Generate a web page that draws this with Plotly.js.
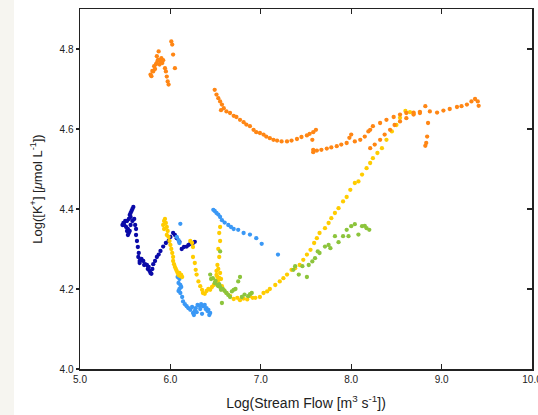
<!DOCTYPE html>
<html>
<head>
<meta charset="utf-8">
<script src="https://cdn.plot.ly/plotly-3.0.1.min.js"></script>
<style>html,body{margin:0;padding:0;background:#fff;}#chart{width:538px;height:415px;}</style>
</head>
<body>
<div id="chart"></div>
<script>
// Log(Stream Flow) vs Log([K+]) per storm event
const darkBlueX = [5.59,5.58,5.57,5.56,5.55,5.56,5.54,5.52,5.50,5.48,5.47,5.49,5.51,5.53,5.52,5.54,5.53,5.55,5.56,5.58,5.60,5.61,5.62,5.62,5.63,5.64,5.65,5.645,5.66,5.675,5.66,5.68,5.70,5.71,5.72,5.74,5.75,5.76,5.77,5.78,5.79,5.80,5.81,5.83,5.85,5.87,5.89,5.92,5.95,5.98,6.00,6.03,6.05,6.07,6.10,6.125,6.15,6.18,6.20,6.22,6.25,6.27];
const darkBlueY = [4.405,4.40,4.395,4.39,4.385,4.38,4.375,4.37,4.37,4.365,4.36,4.36,4.355,4.35,4.345,4.34,4.335,4.345,4.36,4.37,4.375,4.36,4.35,4.335,4.32,4.305,4.29,4.28,4.27,4.273,4.265,4.275,4.27,4.26,4.262,4.26,4.25,4.255,4.245,4.24,4.238,4.25,4.262,4.27,4.28,4.286,4.295,4.306,4.315,4.32,4.33,4.34,4.335,4.327,4.318,4.30,4.305,4.306,4.31,4.313,4.315,4.318];

const lightBlueX = [6.11,6.07,6.09,6.10,6.08,6.10,6.09,6.11,6.10,6.12,6.09,6.11,6.13,6.14,6.16,6.18,6.20,6.22,6.25,6.27,6.24,6.28,6.30,6.32,6.34,6.36,6.38,6.40,6.42,6.44,6.43,6.41,6.39,6.35,6.33,6.29,6.26,
  6.475,6.49,6.51,6.53,6.55,6.57,6.60,6.64,6.67,6.70,6.75,6.81,6.88,6.95,7.01,7.19];
const lightBlueY = [4.363,4.33,4.322,4.315,4.23,4.225,4.215,4.21,4.20,4.205,4.195,4.19,4.18,4.169,4.162,4.157,4.152,4.148,4.14,4.145,4.155,4.152,4.16,4.158,4.162,4.157,4.16,4.152,4.148,4.14,4.135,4.145,4.15,4.138,4.15,4.142,4.135,
  4.398,4.395,4.39,4.386,4.38,4.372,4.366,4.36,4.355,4.35,4.348,4.34,4.336,4.327,4.313,4.286];

const yellowX = [5.94,5.93,5.92,5.93,5.95,5.96,5.97,5.96,5.98,5.99,6.00,6.01,6.02,6.03,6.03,6.04,6.05,6.06,6.07,6.08,6.09,6.10,6.11,6.12,6.13,
  6.22,6.24,6.25,6.25,6.27,6.28,6.29,6.31,6.33,6.35,6.36,6.38,6.40,6.42,6.44,6.46,6.48,
  6.50,6.51,6.52,6.51,6.53,6.52,6.54,6.53,6.55,6.54,6.55,6.53,6.52,6.54,6.55,6.56,
  6.57,6.59,6.62,6.66,6.70,6.74,6.77,6.81,6.85,6.88,6.91,6.94,6.99,7.03,7.07,7.10,7.16,7.21,7.25,7.29,7.34,7.38,7.43,7.47,7.51,7.55,7.59,7.62,7.65,7.71,7.75,7.78,7.82,7.86,7.91,7.95,7.99,8.04,8.08,8.12,8.17,8.21,8.24,8.29,8.34,8.39,8.45,8.50,8.54,8.60,8.65,8.69];
const yellowY = [4.375,4.37,4.36,4.35,4.365,4.355,4.345,4.335,4.33,4.32,4.31,4.30,4.29,4.28,4.27,4.262,4.255,4.25,4.245,4.24,4.235,4.24,4.232,4.235,4.23,
  4.32,4.315,4.305,4.28,4.265,4.248,4.236,4.219,4.207,4.198,4.19,4.188,4.195,4.20,4.198,4.205,4.21,
  4.22,4.235,4.23,4.245,4.25,4.26,4.28,4.30,4.32,4.34,4.355,4.222,4.215,4.228,4.24,4.225,
  4.207,4.198,4.19,4.183,4.175,4.178,4.172,4.176,4.174,4.182,4.178,4.178,4.18,4.19,4.194,4.20,4.21,4.219,4.227,4.236,4.248,4.252,4.26,4.273,4.286,4.298,4.315,4.327,4.34,4.352,4.365,4.377,4.39,4.402,4.419,4.43,4.448,4.465,4.469,4.486,4.502,4.515,4.527,4.54,4.552,4.573,4.594,4.61,4.628,4.645,4.642,4.638];

const greenX = [6.44,6.45,6.47,6.49,6.50,6.52,6.53,6.54,6.55,6.56,6.58,6.60,6.62,6.64,6.66,6.68,6.70,6.72,6.75,6.77,6.79,6.82,6.86,6.88,6.90,6.55,6.57,
  7.36,7.38,7.42,7.46,7.51,7.53,7.57,7.60,7.63,7.65,7.71,7.75,7.77,7.82,7.86,7.91,7.95,7.97,8.00,8.04,8.08,8.12,8.15,8.17,8.20];
const greenY = [4.236,4.225,4.227,4.215,4.22,4.21,4.207,4.212,4.205,4.198,4.20,4.195,4.19,4.185,4.18,4.194,4.198,4.20,4.219,4.23,4.18,4.186,4.182,4.187,4.19,4.294,4.165,
  4.248,4.257,4.236,4.257,4.23,4.26,4.269,4.277,4.294,4.29,4.306,4.31,4.302,4.332,4.317,4.332,4.348,4.332,4.357,4.362,4.336,4.357,4.358,4.352,4.348];

const orangeX = [5.78,5.79,5.80,5.81,5.82,5.83,5.84,5.85,5.86,5.87,5.85,5.87,5.88,5.89,5.90,5.91,5.92,5.94,5.95,5.96,5.97,5.98,6.01,6.02,6.03,6.05,
  6.49,6.51,6.53,6.55,6.57,6.56,6.59,6.62,6.66,6.70,6.73,6.77,6.81,6.84,6.88,6.92,6.95,6.99,7.03,7.06,7.10,7.14,7.18,7.23,7.29,7.34,7.40,7.45,7.51,7.54,7.58,7.61,7.57,
  7.58,7.58,7.62,7.67,7.73,7.78,7.84,7.89,7.95,7.98,8.00,8.04,8.10,8.15,8.19,8.21,8.24,8.32,8.39,8.47,8.54,8.61,8.69,8.76,8.82,8.87,8.95,9.02,9.09,9.17,9.22,9.28,9.33,9.37,9.40,9.41,
  8.21,8.26,8.32,8.37,8.43,8.48,8.54,8.61,8.69,8.76,8.85,8.84,8.83,8.82];
const orangeY = [4.736,4.732,4.745,4.744,4.757,4.75,4.762,4.765,4.772,4.773,4.782,4.794,4.761,4.769,4.777,4.765,4.772,4.752,4.744,4.731,4.719,4.711,4.819,4.811,4.786,4.752,
  4.698,4.686,4.677,4.669,4.661,4.647,4.652,4.644,4.64,4.633,4.63,4.623,4.617,4.611,4.607,4.598,4.592,4.59,4.586,4.581,4.577,4.573,4.571,4.569,4.569,4.571,4.575,4.58,4.584,4.588,4.592,4.598,4.573,
  4.548,4.542,4.546,4.548,4.551,4.554,4.557,4.561,4.565,4.578,4.586,4.569,4.573,4.581,4.594,4.598,4.607,4.615,4.623,4.63,4.636,4.64,4.641,4.643,4.657,4.644,4.641,4.646,4.65,4.655,4.657,4.661,4.669,4.675,4.669,4.658,
  4.552,4.561,4.573,4.586,4.598,4.61,4.619,4.627,4.636,4.64,4.615,4.581,4.565,4.558];

const xTicks = [5,6,7,8,9,10];
const xTickLabels = ['5.0','6.0','7.0','8.0','9.0','10.0'];
const yTicks = [4.0,4.2,4.4,4.6,4.8];
const yTickLabels = ['4.0','4.2','4.4','4.6','4.8'];

function series(x, y, color) {
  return {x: x, y: y, type: 'scatter', mode: 'markers', hoverinfo: 'skip',
    marker: {color: color, size: 4.3, line: {width: 0}}, showlegend: false};
}
const traces = [
  series(darkBlueX, darkBlueY, '#0a0aa8'),
  series(lightBlueX, lightBlueY, '#3a98f5'),
  series(yellowX, yellowY, '#ffcc00'),
  series(greenX, greenY, '#8cc43c'),
  series(orangeX, orangeY, '#ff8614'),
  {x: [], y: [], xaxis: 'x2', yaxis: 'y2', type: 'scatter', showlegend: false}
];

const font = {family: 'Liberation Sans, Arial, sans-serif', color: '#222'};
const layout = {
  width: 538, height: 415,
  margin: {l: 80, r: 6, t: 9, b: 46},
  paper_bgcolor: '#fff', plot_bgcolor: '#fff',
  font: font,
  xaxis: {range: [5, 10], tickvals: xTicks, ticktext: xTickLabels, ticks: 'inside', ticklen: 5,
    tickwidth: 1.2, tickcolor: '#222', showgrid: false, zeroline: false, showline: true, linecolor: '#222', linewidth: 1.5,
    tickfont: {size: 10, family: font.family, color: '#222'}, ticklabeloverflow: 'allow',
    title: {text: 'Log(Stream Flow [m<sup>3</sup> s<sup>-1</sup>])', font: {size: 14, family: font.family, color: '#222'}, standoff: 14},
    automargin: false},
  yaxis: {range: [4.0, 4.9], tickvals: yTicks, ticktext: yTickLabels, ticks: 'outside', ticklen: 3,
    tickwidth: 1.2, tickcolor: '#222', showgrid: false, zeroline: false, showline: true, linecolor: '#222', linewidth: 1.5,
    tickfont: {size: 10, family: font.family, color: '#222'}, ticklabeloverflow: 'allow',
    title: {text: 'Log([K<sup>+</sup>] [<i>μ</i>mol L<sup>-1</sup>])', font: {size: 13, family: font.family, color: '#222'}, standoff: 14},
    automargin: false},
  xaxis2: {range: [5, 10], tickvals: xTicks, overlaying: 'x', side: 'top', anchor: 'y', ticks: 'inside', ticklen: 5,
    tickwidth: 1.2, tickcolor: '#222', showticklabels: false, showgrid: false, zeroline: false, showline: true, linecolor: '#222', linewidth: 1.5},
  yaxis2: {range: [4.0, 4.9], tickvals: yTicks, overlaying: 'y', side: 'right', anchor: 'x', ticks: 'inside', ticklen: 5,
    tickwidth: 1.2, tickcolor: '#222', showticklabels: false, showgrid: false, zeroline: false, showline: true, linecolor: '#222', linewidth: 1.5},
  shapes: [{type: 'rect', xref: 'paper', yref: 'paper', x0: -80/452, x1: -66/452, y0: -0.2, y1: 1.1,
    fillcolor: '#f6f5f0', line: {width: 0}, layer: 'below'}]
};
Plotly.newPlot('chart', traces, layout, {displayModeBar: false, staticPlot: true});
</script>
</body>
</html>
